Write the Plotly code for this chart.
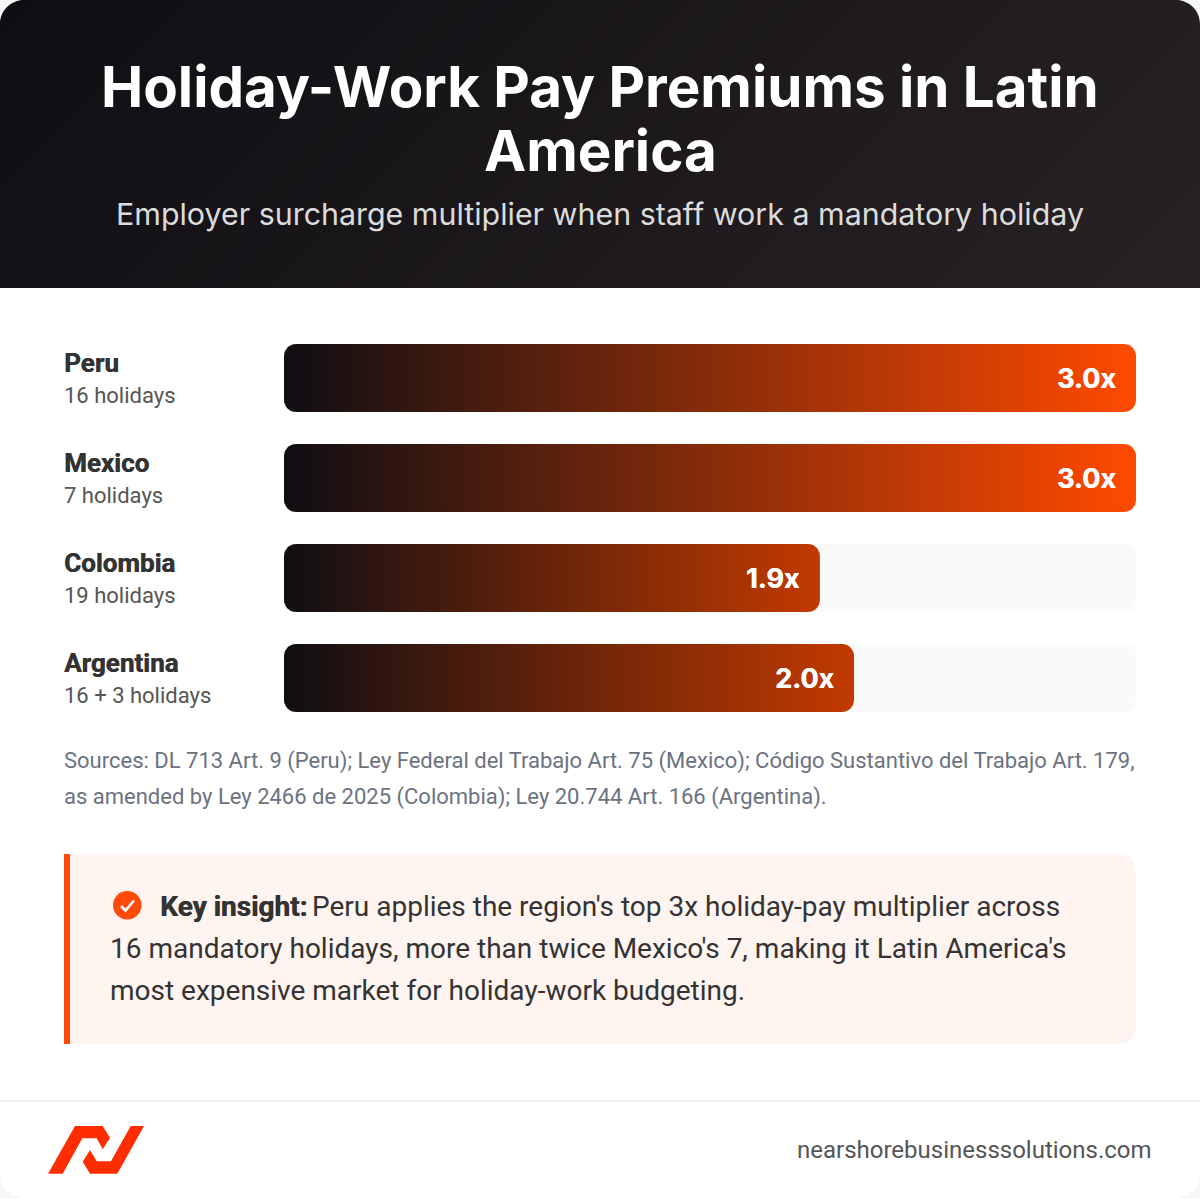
import math
import plotly.graph_objects as go

# data
countries = ["Peru", "Mexico", "Colombia", "Argentina"]
holidays = ["16 holidays", "7 holidays", "19 holidays", "16 + 3 holidays"]
multipliers = [3.0, 3.0, 1.887, 2.007]
bar_labels = ["3.0x", "3.0x", "1.9x", "2.0x"]
bar_end_colors = ["#ff4a00", "#ff4a00", "#c23a00", "#c23a00"]

title_lines = ["Holiday-Work Pay Premiums in Latin", "America"]
subtitle = "Employer surcharge multiplier when staff work a mandatory holiday"
source_lines = [
    "Sources: DL 713 Art. 9 (Peru); Ley Federal del Trabajo Art. 75 (Mexico); Código Sustantivo del Trabajo Art. 179,",
    "as amended by Ley 2466 de 2025 (Colombia); Ley 20.744 Art. 166 (Argentina).",
]
insight_lead = "Key insight:"
insight_lines = [
    "Peru applies the region's top 3x holiday-pay multiplier across",
    "16 mandatory holidays, more than twice Mexico's 7, making it Latin America's",
    "most expensive market for holiday-work budgeting.",
]
footer_url = "nearshorebusinesssolutions.com"

W, H = 1200, 1198
PAGE_BG = "#f7f7f7"
ORANGE = "#ff4a0a"
BODY = "Roboto"
HEAD = "Inter"
HEAVY = "0.5px 0 0 #333333"


def dom_x(a, b):
    return [a / W, b / W]


def dom_y(top, bottom):
    return [1 - bottom / H, 1 - top / H]


def rounded(x0, x1, y0, y1, rx, ry, n=10):
    # outline of a rounded box, in whatever units the axes use
    xs, ys = [], []
    corners = [
        (x1 - rx, y0 + ry, -90),
        (x1 - rx, y1 - ry, 0),
        (x0 + rx, y1 - ry, 90),
        (x0 + rx, y0 + ry, 180),
    ]
    for cx, cy, start in corners:
        for k in range(n + 1):
            a = math.radians(start + 90 * k / n)
            xs.append(cx + rx * math.cos(a))
            ys.append(cy + ry * math.sin(a))
    return xs + xs[:1], ys + ys[:1]


def box_path(x0, y0, x1, y1, r_tl=0, r_tr=0, r_br=0, r_bl=0):
    return (
        f"M{x0 + r_tl},{y0} L{x1 - r_tr},{y0} Q{x1},{y0} {x1},{y0 + r_tr} "
        f"L{x1},{y1 - r_br} Q{x1},{y1} {x1 - r_br},{y1} "
        f"L{x0 + r_bl},{y1} Q{x0},{y1} {x0},{y1 - r_bl} "
        f"L{x0},{y0 + r_tl} Q{x0},{y0} {x0 + r_tl},{y0} Z"
    )


def corner_mask(cx, cy, r, dx, dy):
    # the bit of page showing outside a rounded card corner
    k = r * 0.5523
    px, py = cx + dx * r, cy
    qx, qy = cx, cy + dy * r
    return (
        f"M{cx},{cy} L{px},{py} C{px - dx * k},{py} {qx},{qy - dy * k} {qx},{qy} Z"
    )


fig = go.Figure()

# header gradient, 135deg
fig.add_trace(go.Heatmap(
    z=[[0, 0.806], [0.194, 1]],
    x=[0, 1200], y=[0, 288],
    zsmooth="best", zmin=0, zmax=1,
    colorscale=[[0, "#0f0e13"], [1, "#282224"]],
    showscale=False, hoverinfo="skip",
    xaxis="x3", yaxis="y3",
))

RX = 12 * 3.0 / 852
RY = 12 / 100
HALF = 0.34

# tracks then bars
for i, name in enumerate(countries):
    if multipliers[i] < 3.0:
        xs, ys = rounded(0, 3.0, i - HALF, i + HALF, RX, RY)
        fig.add_trace(go.Scatter(
            x=xs, y=ys, mode="lines", fill="toself", fillcolor="#fafafa",
            line=dict(width=0), hoverinfo="skip", showlegend=False,
        ))
for i, name in enumerate(countries):
    xs, ys = rounded(0, multipliers[i], i - HALF, i + HALF, RX, RY)
    fig.add_trace(go.Scatter(
        x=xs, y=ys, mode="lines", fill="toself",
        fillgradient=dict(
            type="horizontal",
            colorscale=[[0, "#0f0e13"], [1, bar_end_colors[i]]],
            start=0, stop=multipliers[i],
        ),
        line=dict(width=0), hoverinfo="skip", showlegend=False, name=name,
    ))

shapes = [
    # insight box
    dict(type="path", path=box_path(64, 854, 1136, 1044, 0, 20, 20, 0), xref="x2", yref="y2",
         fillcolor="#fff4f0", line_width=0, layer="above"),
    dict(type="rect", x0=64, x1=70, y0=854, y1=1044, xref="x2", yref="y2",
         fillcolor=ORANGE, line_width=0, layer="above"),
    # check icon
    dict(type="circle", x0=113, x1=141.5, y0=891, y1=919.5, xref="x2", yref="y2",
         fillcolor=ORANGE, line_width=0, layer="above"),
    dict(type="path", path="M121,906 L125.5,910.5 L134,900.5", xref="x2", yref="y2",
         line=dict(color="white", width=2.6), layer="above"),
    # footer rule
    dict(type="line", x0=0, x1=1200, y0=1101, y1=1101, xref="x2", yref="y2",
         line=dict(color="#f1f1f1", width=2), layer="above"),
    # logo
    dict(type="path", xref="x2", yref="y2", fillcolor="#ff2d00", line_width=0, layer="above",
         path="M48,1173.7 L75,1126 L102.7,1126 L110,1137.7 L102.7,1149.3 L96.7,1138.3 "
              "L82.3,1138.3 L62.7,1173.7 Z"),
    dict(type="path", xref="x2", yref="y2", fillcolor="#ff2d00", line_width=0, layer="above",
         path="M90,1150 L96.7,1161.3 L111,1161.3 L130.7,1126 L144,1126 L117.3,1173.7 "
              "L90,1173.7 L82.7,1161.7 Z"),
]
# rounded card corners
for cx, cy, dx, dy in [(0, 0, 1, 1), (W, 0, -1, 1), (W, H, -1, -1), (0, H, 1, -1)]:
    shapes.append(dict(type="path", path=corner_mask(cx, cy, 24, dx, dy), xref="x2", yref="y2",
                       fillcolor=PAGE_BG, line_width=0, layer="above"))


def label(x, y, text, size, color, family=BODY, anchor="left", shadow=None):
    font = dict(size=size, color=color, family=family)
    if shadow:
        font["shadow"] = shadow
    return dict(
        x=x, y=y, xref="x2", yref="y2", text=text, showarrow=False,
        xanchor=anchor, yanchor="middle", align=anchor,
        borderpad=0, borderwidth=0, font=font,
    )


annotations = [
    label(600, 86, f"<b>{title_lines[0]}</b>", 56.5, "white", HEAD, "center"),
    label(600, 150, f"<b>{title_lines[1]}</b>", 56.5, "white", HEAD, "center"),
    label(600, 214, subtitle, 30.4, "#dcdcdc", HEAD, "center"),
]
for i, name in enumerate(countries):
    row_y = 378 + 100 * i
    annotations.append(label(64, row_y - 15, f"<b>{name}</b>", 26, "#333333", shadow=HEAVY))
    annotations.append(label(64, row_y + 17, holidays[i], 22, "#555555"))
    annotations.append(dict(
        x=multipliers[i], y=i, xref="x", yref="y", text=f"<b>{bar_labels[i]}</b>",
        showarrow=False, xanchor="right", yanchor="middle", xshift=-20,
        borderpad=0, borderwidth=0,
        font=dict(size=27, color="white", family=HEAD, shadow="0.4px 0 0 white"),
    ))
for i, line in enumerate(source_lines):
    annotations.append(label(64, 761 + 36 * i, line, 22, "#6b7280"))
annotations.append(label(160, 906, f"<b>{insight_lead}</b>", 28, "#333333", shadow=HEAVY))
annotations.append(label(311.5, 906, insight_lines[0], 28, "#333333"))
annotations.append(label(110, 948, insight_lines[1], 28, "#333333"))
annotations.append(label(110, 990, insight_lines[2], 28, "#333333"))
annotations.append(label(1152, 1150, footer_url, 24, "#555555", BODY, "right"))

hidden = dict(visible=False, fixedrange=True)
fig.update_layout(
    width=W, height=H,
    margin=dict(l=0, r=0, t=0, b=0),
    paper_bgcolor="white",
    plot_bgcolor="rgba(0,0,0,0)",
    showlegend=False,
    # bars: full track = 3x, one row = 100px
    xaxis=dict(domain=dom_x(284, 1136), range=[0, 3.0], anchor="y", **hidden),
    yaxis=dict(domain=dom_y(328, 728), range=[3.5, -0.5], anchor="x", **hidden),
    # whole page in pixels, for the layout pieces
    xaxis2=dict(domain=[0, 1], range=[0, W], anchor="y2", **hidden),
    yaxis2=dict(domain=[0, 1], range=[H, 0], anchor="x2", **hidden),
    xaxis3=dict(domain=[0, 1], range=[0, 1200], anchor="y3", **hidden),
    yaxis3=dict(domain=dom_y(0, 288), range=[288, 0], anchor="x3", **hidden),
    shapes=shapes,
    annotations=annotations,
)

fig.write_html(
    "out.html",
    config={"displayModeBar": False},
    post_script="document.body.style.margin='0';document.body.style.overflow='hidden';",
)
